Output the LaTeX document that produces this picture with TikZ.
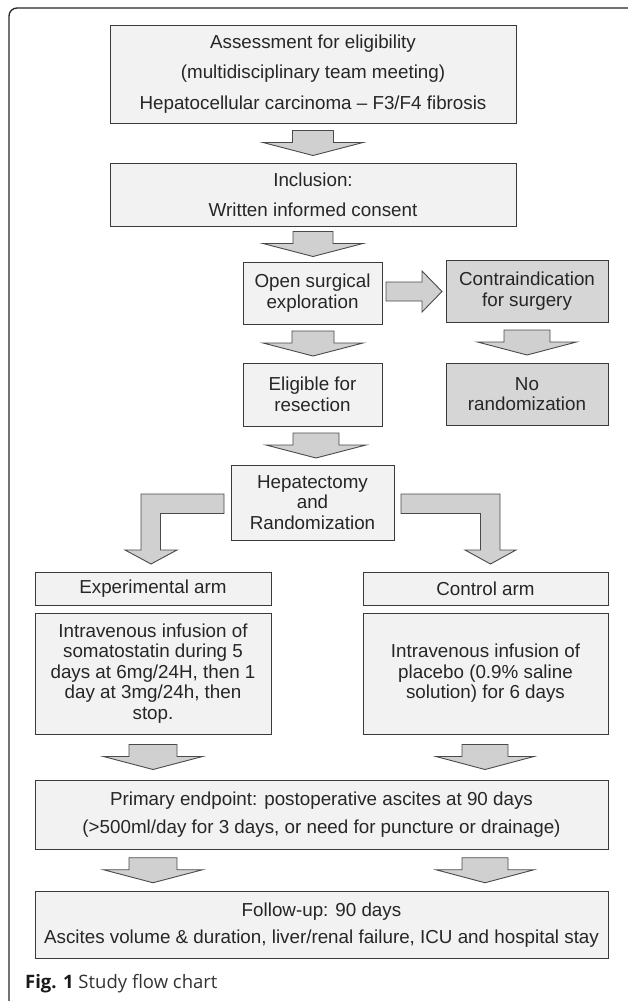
\documentclass[tikz,border=0pt]{standalone}
\usepackage{fontspec}
\setmainfont{Liberation Sans}
\newfontfamily\capfont{Open Sans}
\usetikzlibrary{calc}
\definecolor{lightfill}{HTML}{F2F2F2}
\definecolor{darkfill}{HTML}{D6D6D6}
\definecolor{arrowfill}{HTML}{D0D0D0}
\definecolor{bordergray}{HTML}{3A3A3A}
\definecolor{arrowline}{HTML}{4A4A4A}
\definecolor{captext}{HTML}{333333}
\tikzset{
  box/.style={draw=bordergray, fill=lightfill, line width=0.9pt, align=center,
    inner sep=0pt, text=black!85, font=\fontsize{18.8}{20.5}\selectfont},
  darkbox/.style={box, fill=darkfill},
  widetext/.style={font=\fontsize{18.8}{#1}\selectfont},
  blk/.style={draw=arrowline, fill=arrowfill, line width=0.9pt, line join=miter},
}
% block arrow pointing down, centred in the gap between two named nodes
% #1 upper node, #2 lower node, #3 x, #4 stem half width, #5 head half width
\newcommand\dnarrow[5]{%
  \draw[blk] let \p3=($(#1.south)!0.5!(#2.north)$) in
    ({(#3-#4)*1pt},{\y3+12.5pt}) -- ({(#3-#4)*1pt},{\y3+0.5pt}) --
    ({(#3-#5)*1pt},{\y3+0.5pt}) -- ({#3*1pt},{\y3-12.5pt}) --
    ({(#3+#5)*1pt},{\y3+0.5pt}) -- ({(#3+#4)*1pt},{\y3+0.5pt}) --
    ({(#3+#4)*1pt},{\y3+12.5pt}) -- cycle;}
\begin{document}
\begin{tikzpicture}[x=1pt,y=-1pt]
\useasboundingbox (0,0) rectangle (627,1001);
% outer frame (open at right and bottom)
\draw[line width=1.3pt, black!85, rounded corners=8pt] (9,1003) -- (9,8) -- (629,8);

\node[box, widetext=30.5, minimum width=406, minimum height=98] (b1) at (313,74)
  {Assessment for eligibility\\(multidisciplinary team meeting)\\Hepatocellular carcinoma – F3/F4 fibrosis};
\node[box, widetext=30, minimum width=406, minimum height=63] (b2) at (313,194.5)
  {Inclusion:\\Written informed consent};
\node[box, minimum width=139, minimum height=62] (open) at (312.5,293)
  {Open surgical\\exploration};
\node[darkbox, minimum width=162, minimum height=62] (contra) at (527,291)
  {Contraindication\\for surgery};
\node[box, minimum width=139, minimum height=63] (elig) at (312.5,394.5)
  {Eligible for\\resection};
\node[darkbox, minimum width=162, minimum height=62] (norand) at (527,394)
  {No\\randomization};
\node[box, minimum width=163, minimum height=75] (hep) at (312.5,502.5)
  {Hepatectomy\\and\\Randomization};
\node[box, minimum width=236, minimum height=33] (exp) at (153,588.5)
  {Experimental arm};
\node[box, minimum width=245, minimum height=33] (ctrl) at (485.5,588.5)
  {Control arm};
\node[box, minimum width=236, minimum height=121] (ivl) at (153,673.5)
  {Intravenous infusion of\\somatostatin during 5\\days at 6mg/24H, then 1\\day at 3mg/24h, then\\stop.};
\node[box, minimum width=245, minimum height=121] (ivr) at (485.5,673.5)
  {Intravenous infusion of\\placebo (0.9\% saline\\solution) for 6 days};
\node[box, widetext=28, minimum width=573, minimum height=69] (prim) at (321.5,814.5)
  {Primary endpoint: postoperative ascites at 90 days\\(>500ml/day for 3 days, or need for puncture or drainage)};
\node[box, widetext=27, minimum width=573, minimum height=67] (fol) at (321.5,925)
  {Follow-up: 90 days\\Ascites volume \& duration, liver/renal failure, ICU and hospital stay};

% block arrows
\dnarrow{b1}{b2}{313}{20.5}{50}
\dnarrow{b2}{open}{313}{20}{50}
\dnarrow{open}{elig}{313}{21}{50}
\dnarrow{contra}{norand}{527}{23}{49.5}
\dnarrow{elig}{hep}{316}{23}{50}
\dnarrow{ivl}{prim}{153}{24}{49.5}
\dnarrow{ivr}{prim}{485}{23}{49}
\dnarrow{prim}{fol}{153}{24}{49.5}
\dnarrow{prim}{fol}{485}{23}{49}

% open -> contra (right pointing)
\draw[blk] (386,282) -- (422,282) -- (422,271) -- (442,291.5) -- (422,312) -- (422,301) -- (386,301) -- cycle;
% hep -> exp (L shaped)
\draw[blk] (224,494) -- (141,494) -- (141,550) -- (125,550) -- (151,564) -- (177,550) -- (160.5,550) -- (160.5,513.5) -- (224,513.5) -- cycle;
% hep -> ctrl (L shaped)
\draw[blk] (401,494) -- (500,494) -- (500,550) -- (516,550) -- (490.5,564) -- (465,550) -- (480.5,550) -- (480.5,513.5) -- (401,513.5) -- cycle;

\node[anchor=base west, inner sep=0pt, text=captext, font=\capfont\fontsize{18.5}{22}\selectfont] (cap) at (25,988)
  {\textbf{\color{black!90}Fig. 1} Study flow chart};
\end{tikzpicture}
\end{document}
